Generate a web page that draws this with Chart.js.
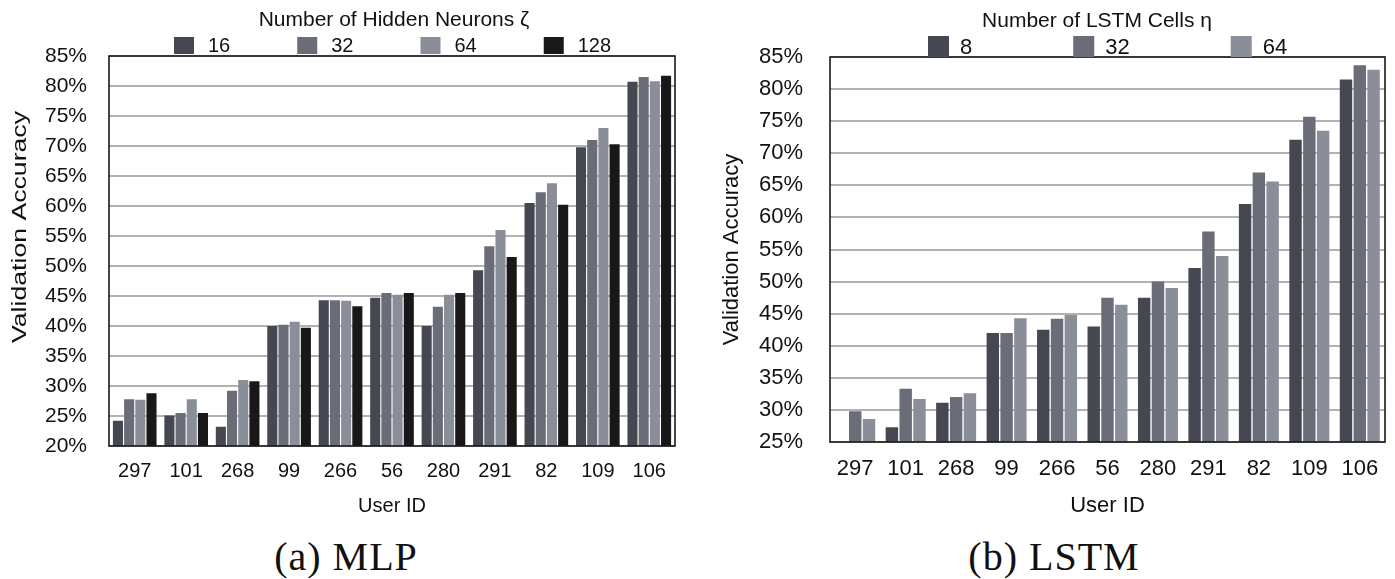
<!DOCTYPE html>
<html><head><meta charset="utf-8">
<script src="https://cdn.jsdelivr.net/npm/chart.js@4"></script>
<style>
body{margin:0;background:#fff;width:1395px;height:579px;overflow:hidden;position:relative;font-family:"Liberation Sans",Arial,sans-serif;}
#c1{position:absolute;left:0;top:0;}
#c2{position:absolute;left:700px;top:0;}
.cap{position:absolute;top:533px;font-family:"Liberation Serif",serif;font-size:40px;line-height:48px;color:#111;transform:translateX(-50%);white-space:nowrap;letter-spacing:1px;}
</style></head><body>
<canvas id="c1" width="700" height="525"></canvas>
<canvas id="c2" width="695" height="525"></canvas>
<div class="cap" style="left:346px">(a) MLP</div>
<div class="cap" style="left:1054px">(b) LSTM</div>
<script>
const userIds = ['297','101','268','99','266','56','280','291','82','109','106'];

const mlpNames = ['16','32','64','128'];
const mlp16  = [24.2,25.1,23.2,40.0,44.3,44.7,40.0,49.3,60.5,69.8,80.7];
const mlp32  = [27.8,25.5,29.2,40.2,44.3,45.5,43.2,53.3,62.3,71.0,81.5];
const mlp64  = [27.7,27.8,31.0,40.7,44.2,45.2,45.2,56.0,63.8,73.0,80.8];
const mlp128 = [28.8,25.5,30.8,39.7,43.3,45.5,45.5,51.5,60.2,70.3,81.7];
const mlpYTicks = [20,25,30,35,40,45,50,55,60,65,70,75,80,85];

const lstmNames = ['8','32','64'];
const lstm8  = [null,27.3,31.1,42.0,42.5,43.0,47.5,52.1,62.1,72.1,81.5];
const lstm32 = [29.8,33.3,32.0,42.0,44.2,47.5,50.0,57.8,67.0,75.7,83.7];
const lstm64 = [28.6,31.7,32.6,44.3,44.8,46.4,49.0,54.0,65.6,73.5,83.0];
const lstmYTicks = [25,30,35,40,45,50,55,60,65,70,75,80,85];

const grays = ['#464851','#6a6c77','#8a8e99','#181818'];
const TXT = '#111';
const FAM = '"Liberation Sans", Arial, sans-serif';
Chart.defaults.font.family = FAM;
Chart.defaults.color = TXT;

const boxLegend = {
  id: 'boxLegend',
  afterDraw(chart, args, o) {
    const ctx = chart.ctx;
    ctx.save();
    ctx.fillStyle = TXT;
    ctx.font = o.titleSize + 'px ' + FAM;
    ctx.textAlign = 'center'; ctx.textBaseline = 'middle';
    ctx.fillText(o.title, o.titleX, o.titleY);
    ctx.font = o.size + 'px ' + FAM;
    ctx.textAlign = 'left';
    let x = o.x;
    chart.data.datasets.forEach(ds => {
      ctx.fillStyle = ds.backgroundColor;
      ctx.fillRect(x, o.boxY, o.boxW, o.boxH);
      ctx.fillStyle = TXT;
      const tx = x + o.boxW + o.gap;
      ctx.fillText(ds.label, tx, o.boxY + o.boxH / 2 + 1);
      x = tx + ctx.measureText(ds.label).width + o.pad;
    });
    if (o.yTitle) {
      const t = o.yTitle;
      ctx.save();
      ctx.font = t.size + 'px ' + FAM;
      const w = ctx.measureText(t.text).width;
      ctx.translate(t.x, t.y);
      ctx.rotate(-Math.PI / 2);
      ctx.scale(t.len / w, 1);
      ctx.textAlign = 'center'; ctx.textBaseline = 'middle';
      ctx.fillText(t.text, 0, 0);
      ctx.restore();
    }
    ctx.restore();
  }
};
const frame = {
  id: 'frame',
  afterDatasetsDraw(chart) {
    const a = chart.chartArea, ctx = chart.ctx;
    ctx.save();
    ctx.strokeStyle = '#1a1a1a'; ctx.lineWidth = 1.6;
    ctx.strokeRect(a.left, a.top, a.right - a.left, a.bottom - a.top);
    ctx.restore();
  }
};

function makeChart(id, names, series, yTicks, cfg) {
  return new Chart(document.getElementById(id), {
    type: 'bar',
    data: {
      labels: userIds,
      datasets: names.map((n, i) => ({
        label: n, data: series[i], backgroundColor: grays[i],
        categoryPercentage: cfg.catPct, barPercentage: cfg.barPct, borderWidth: 0
      }))
    },
    options: {
      responsive: false, animation: false, devicePixelRatio: 1,
      layout: { padding: { top: cfg.top, right: cfg.right, left: 0, bottom: 0 } },
      plugins: { legend: { display: false }, tooltip: { enabled: false }, boxLegend: cfg.legend },
      scales: {
        x: {
          afterFit(s) { s.height = cfg.xH; },
          grid: { display: false }, border: { display: false },
          ticks: { padding: cfg.xPad, font: { size: cfg.xFont }, color: TXT, maxRotation: 0 },
          title: { display: true, text: 'User ID', font: { size: cfg.titleFont }, color: TXT, padding: { top: 0, bottom: cfg.xTitlePad } }
        },
        y: {
          min: yTicks[0], max: yTicks[yTicks.length - 1],
          afterFit(s) { s.width = cfg.yW; },
          afterBuildTicks(s) { s.ticks = yTicks.map(v => ({ value: v })); },
          grid: { color: '#b2b2b2', lineWidth: 2, drawTicks: false },
          border: { display: false },
          ticks: { callback: v => v + '%', padding: cfg.yPad, font: { size: cfg.yFont }, color: TXT },
          title: { display: cfg.yTitleChart, text: 'Validation Accuracy', font: { size: cfg.yTitleFont }, color: TXT, padding: { top: cfg.yTitlePad, bottom: 0 } }
        }
      }
    },
    plugins: [boxLegend, frame]
  });
}

makeChart('c1', mlpNames, [mlp16, mlp32, mlp64, mlp128], mlpYTicks, {
  catPct: 0.87, barPct: 0.9, top: 56, right: 25, xH: 79, yW: 109,
  xPad: 5, xFont: 20, yPad: 22, yFont: 21, titleFont: 20, xTitlePad: 7,
  yTitleChart: false, yTitleFont: 22, yTitlePad: 5,
  legend: { title: 'Number of Hidden Neurons \u03b6', titleSize: 21, titleX: 394, titleY: 20,
            x: 174, boxY: 37, boxW: 20, boxH: 17, gap: 14, pad: 67, size: 20,
            yTitle: { text: 'Validation Accuracy', x: 20, y: 227, size: 21, len: 232 } }
});
makeChart('c2', lstmNames, [lstm8, lstm32, lstm64], lstmYTicks, {
  catPct: 0.82, barPct: 0.9, top: 57, right: 10, xH: 83, yW: 130,
  xPad: 6, xFont: 22, yPad: 27, yFont: 22, titleFont: 22, xTitlePad: 6,
  yTitleChart: true, yTitleFont: 22, yTitlePad: 19,
  legend: { title: 'Number of LSTM Cells \u03b7', titleSize: 21, titleX: 397, titleY: 21,
            x: 228, boxY: 36, boxW: 21, boxH: 21, gap: 11, pad: 101, size: 22 }
});
</script>
</body></html>
